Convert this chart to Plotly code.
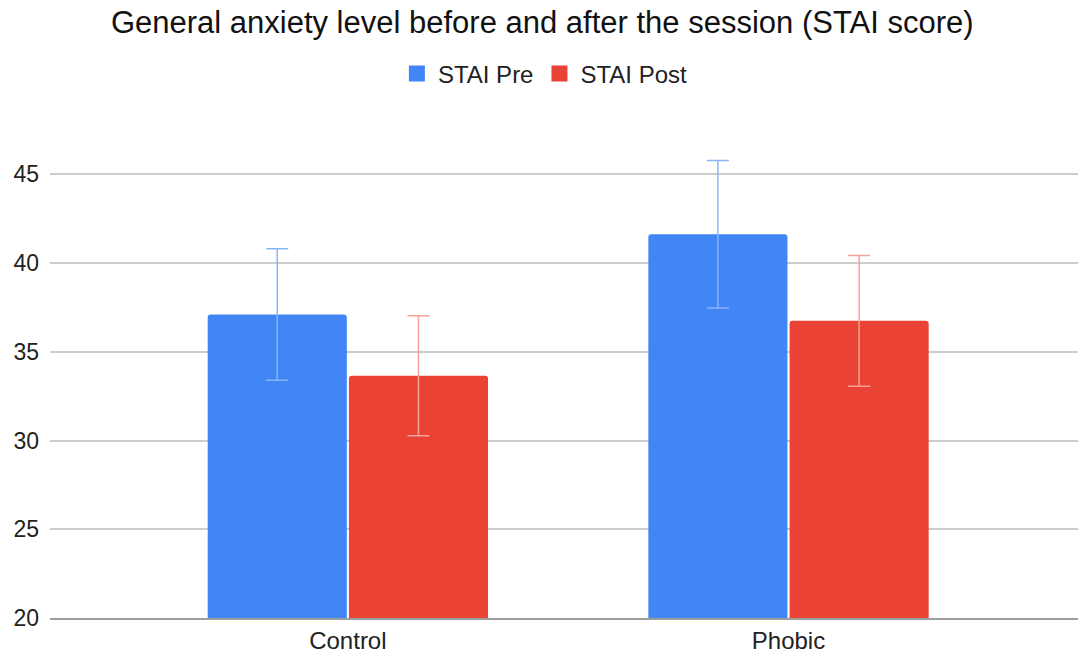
import plotly.graph_objects as go

categories = ["Control", "Phobic"]
stai_pre = [37.1, 41.62]
stai_pre_err = [3.7, 4.15]
stai_post = [33.65, 36.74]
stai_post_err = [3.38, 3.68]

FONT = "Liberation Sans, Arial, Helvetica, sans-serif"
BLUE = "#4285F4"
RED = "#EA4335"

fig = go.Figure()
fig.add_trace(go.Bar(
    name="STAI Pre", x=categories, y=stai_pre, marker=dict(color=BLUE, cornerradius=3, line=dict(width=0)),
    error_y=dict(type="data", array=stai_pre_err, color="#8AB4F8", thickness=1.5, width=11),
    showlegend=False,
))
fig.add_trace(go.Bar(
    name="STAI Post", x=categories, y=stai_post, marker=dict(color=RED, cornerradius=3, line=dict(width=0)),
    error_y=dict(type="data", array=stai_post_err, color="#F4A29A", thickness=1.5, width=11),
    showlegend=False,
))
# legend entries
for nm, col in [("STAI Pre", BLUE), ("STAI Post", RED)]:
    fig.add_trace(go.Scatter(x=[None], y=[None], mode="markers", name=nm,
                             marker=dict(symbol="square", size=16, color=col)))

fig.update_layout(
    width=1078, height=654,
    paper_bgcolor="white", plot_bgcolor="white",
    margin=dict(l=50, r=0, t=121, b=36),
    barmode="group", bargap=0.359, bargroupgap=0.015,
    font=dict(family=FONT, color="#222222"),
    title=dict(text="General anxiety level before and after the session (STAI score)",
               x=0.503, xanchor="center", y=1 - 22 / 654, yanchor="middle",
               font=dict(size=31, color="#111111", family=FONT)),
    legend=dict(orientation="h", xref="container", yref="container",
                x=0.505, xanchor="center", y=1 - 74 / 654, yanchor="middle",
                font=dict(size=24, color="#222222"), itemsizing="trace",
                itemwidth=32, tracegroupgap=0),
    xaxis=dict(type="category", range=[-0.676, 1.657], showgrid=False,
               showline=True, linecolor="#9E9E9E", linewidth=1.5,
               ticks="", tickfont=dict(size=24, color="#222222")),
    yaxis=dict(range=[20, 48], tickvals=[20, 25, 30, 35, 40, 45], showgrid=True,
               gridcolor="#CCCCCC", gridwidth=1.5, zeroline=False, showline=False,
               ticks="", ticklabelstandoff=10, tickfont=dict(size=23, color="#222222")),
)

fig.write_html("out.html", config={"displayModeBar": False},
               post_script="document.body.style.margin='0';document.body.style.padding='0';")
